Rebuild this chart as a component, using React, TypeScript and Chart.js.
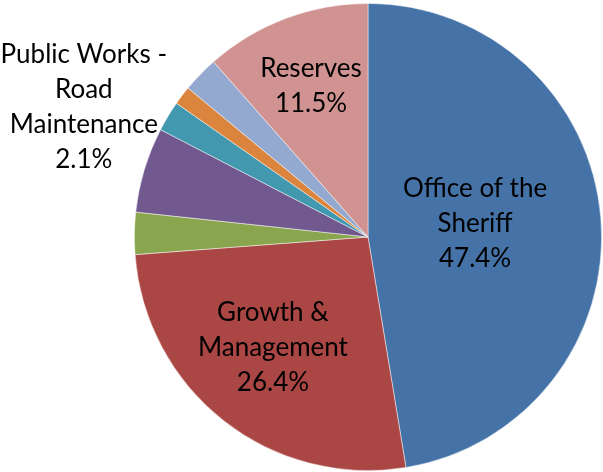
import React, { useEffect, useRef } from "react";
import { Chart, registerables } from "chart.js";

Chart.register(...registerables);

const categories = [
  "Office of the Sheriff",
  "Growth & Management",
  "Other A",
  "Other B",
  "Public Works - Road Maintenance",
  "Other C",
  "Other D",
  "Reserves",
];
const shares = [47.4, 26.4, 2.9, 5.9, 2.1, 1.3, 2.5, 11.5];
const colors = ["#4572A7", "#AA4643", "#89A54E", "#71588F", "#4198AF", "#DB843D", "#93A9CF", "#D19392"];
// label lines shown per slice (empty = no label)
const labelLines: string[][] = [
  ["Office of the", "Sheriff"],
  ["Growth &", "Management"],
  [],
  [],
  ["Public Works -", "Road", "Maintenance"],
  [],
  [],
  ["Reserves"],
];
// radial fraction for inside labels; negative = outside label
const labelRadius = [0.46, 0.61, 0, 0, -1, 0, 0, 0.69];
const labelNudgeX = [0, -7, 0, 0, 0, 0, 0, 0];
const labelNudgeY = [-5, -1, 0, 0, 0, 0, 0, 0];

const FONT = "26px Lato";
const LINE_H = 35;

const labelPlugin = {
  id: "sliceLabels",
  afterDatasetsDraw(chart: any) {
    const ctx = chart.ctx;
    const meta = chart.getDatasetMeta(0);
    ctx.save();
    ctx.font = FONT;
    ctx.fillStyle = "#000";
    ctx.textAlign = "center";
    ctx.textBaseline = "middle";
    meta.data.forEach((arc: any, i: number) => {
      const lines = labelLines[i];
      if (!lines.length) return;
      const all = [...lines, shares[i].toFixed(1) + "%"];
      const { x, y, startAngle, endAngle, outerRadius } = arc.getProps(
        ["x", "y", "startAngle", "endAngle", "outerRadius"],
        true
      );
      const mid = (startAngle + endAngle) / 2;
      const f = labelRadius[i];
      let cx: number, cy: number;
      if (f > 0) {
        cx = x + Math.cos(mid) * outerRadius * f;
        cy = y + Math.sin(mid) * outerRadius * f;
      } else {
        const ax = x + Math.cos(mid) * outerRadius;
        const ay = y + Math.sin(mid) * outerRadius;
        const w = Math.max(...all.map((l) => ctx.measureText(l).width));
        cx = ax - 1 - w / 2;
        cy = ay - 9;
      }
      cx += labelNudgeX[i];
      cy += labelNudgeY[i];
      const top = cy - ((all.length - 1) * LINE_H) / 2;
      all.forEach((l, k) => ctx.fillText(l, cx, top + k * LINE_H));
    });
    ctx.restore();
  },
};

export default function App() {
  const ref = useRef<HTMLCanvasElement>(null);
  useEffect(() => {
    const chart = new Chart(ref.current!, {
      type: "pie",
      data: {
        labels: categories,
        datasets: [
          {
            data: shares,
            backgroundColor: colors,
            borderColor: "rgba(255,255,255,0.6)",
            borderWidth: 0.8,
          },
        ],
      },
      options: {
        animation: false,
        responsive: false,
        layout: { padding: { top: 3, bottom: 1, left: 134, right: 1 } },
        plugins: { legend: { display: false }, tooltip: { enabled: false } },
      },
      plugins: [labelPlugin],
    });
    return () => chart.destroy();
  }, []);
  return (
    <div style={{ position: "fixed", left: 0, top: 0, width: 603, height: 472, background: "#fff" }}>
      <canvas ref={ref} width={603} height={472} style={{ width: 603, height: 472 }} />
    </div>
  );
}
